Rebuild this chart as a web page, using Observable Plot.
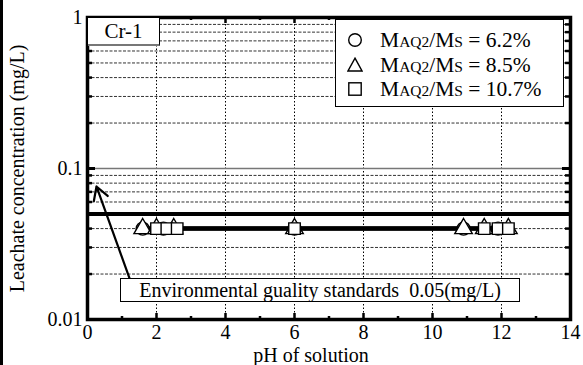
<!DOCTYPE html>
<html>
<head>
<meta charset="utf-8">
<script src="https://cdn.jsdelivr.net/npm/d3@7"></script>
<script src="https://cdn.jsdelivr.net/npm/@observablehq/plot@0.6"></script>
<style>
  html, body { margin: 0; padding: 0; background: white; overflow: hidden; width: 583px; height: 365px; }
  #wrap { position: relative; width: 583px; height: 365px; overflow: hidden; background: white;
          font-family: "Liberation Serif", "Times New Roman", serif; color: black; }
  #wrap svg { display: block; }
  #edge { position: absolute; left: 0; top: 0; width: 3px; height: 365px; background: black; }
  .box { position: absolute; background: white; box-sizing: border-box; }
  #crbox { left: 88px; top: 18px; width: 72px; height: 28px; border-right: 1.5px solid #000; border-bottom: 2px solid #777;
           font-size: 21px; line-height: 26px; text-align: center; }
  #legend { left: 335px; top: 19px; width: 229px; height: 88px; border: 1.5px solid #000; font-size: 21.5px; }
  .row { position: absolute; left: 8px; height: 24px; line-height: 24px; white-space: nowrap; }
  .row svg { position: absolute; left: 3px; top: 4px; }
  .row span.t { position: absolute; left: 36px; top: 0; }
  .sc { font-size: 15.5px; }
  #stdbox { left: 120px; top: 278px; width: 400px; height: 24px; border: 1.2px solid #000; font-size: 20px;
            line-height: 22px; text-align: center; white-space: pre; }
</style>
</head>
<body>
<div id="wrap"></div>
<script>
// ---- data ----
const seriesNames = ["MAQ2/Ms = 6.2%", "MAQ2/Ms = 8.5%", "MAQ2/Ms = 10.7%"];
const seriesRatios = ["6.2%", "8.5%", "10.7%"];
const seriesSymbols = ["circle", "triangle", "square"];
const pH_62 = [1.6, 2.2, 6.0, 10.9, 11.9];
const conc_62 = [0.04, 0.04, 0.04, 0.04, 0.04];
const pH_85 = [1.6, 2.0, 2.5, 6.0, 10.9, 11.5, 12.2];
const conc_85 = [0.04, 0.04, 0.04, 0.04, 0.04, 0.04, 0.04];
const pH_107 = [2.0, 2.3, 2.6, 6.0, 11.5, 11.9, 12.2];
const conc_107 = [0.04, 0.04, 0.04, 0.04, 0.04, 0.04, 0.04];
const standardValue = 0.05;
const standardLabel = "Environmental guality standards  0.05(mg/L)";
const panelLabel = "Cr-1";
const xMajorTicks = [0, 2, 4, 6, 8, 10, 12, 14];
const xMinorTicks = [1, 3, 5, 7, 9, 11, 13];
const xGrid = [2, 4, 6, 8, 10, 12];
const yLabelTicks = [0.01, 0.1, 1];
const yMajorTicks = [0.1];
const yMinorTicks = [0.02, 0.03, 0.04, 0.05, 0.06, 0.07, 0.08, 0.09, 0.2, 0.3, 0.4, 0.5, 0.6, 0.7, 0.8, 0.9];
const yDashedGrid = [0.02, 0.03, 0.04, 0.06, 0.07, 0.08, 0.09, 0.2, 0.3, 0.4, 0.5, 0.6, 0.7, 0.8, 0.9];
const xTitle = "pH of solution";
const yTitle = "Leachate concentration (mg/L)";
// annotation arrow (from label box towards the standard line), data units [pH, conc]
const arrowFrom = [1.25, 0.0179];
const arrowTo = [0.26, 0.076];

// ---- tables ----
const pts = [
  ...pH_62.map((x, i) => ({s: 0, x, y: conc_62[i]})),
  ...pH_85.map((x, i) => ({s: 1, x, y: conc_85[i]})),
  ...pH_107.map((x, i) => ({s: 2, x, y: conc_107[i]}))
];

const W = 583, H = 365, mL = 87, mR = 13, mT = 17, mB = 46;
const pw = W - mL - mR, ph = H - mT - mB;

const chart = Plot.plot({
  width: W, height: H,
  marginLeft: mL, marginRight: mR, marginTop: mT, marginBottom: mB,
  style: {fontFamily: "Liberation Serif, Times New Roman, serif", fontSize: "20px", color: "black", background: "white"},
  x: {domain: [0, 14]},
  y: {type: "log", domain: [0.01, 1]},
  marks: [
    Plot.ruleY(yDashedGrid, {y: d => d, stroke: "#333", strokeWidth: 1, strokeDasharray: "3,1.5"}),
    Plot.ruleX(xGrid, {x: d => d, stroke: "#000", strokeWidth: 1, strokeDasharray: "1.5,2"}),
    Plot.ruleY(yMajorTicks, {y: d => d, stroke: "#777", strokeWidth: 1.6}),
    Plot.ruleY([standardValue], {y: d => d, stroke: "#000", strokeWidth: 4}),
    Plot.line(pts, {x: "x", y: "y", z: "s", stroke: "#000", strokeWidth: 4}),
    Plot.dot(pts, {x: "x", y: "y", symbol: d => seriesSymbols[d.s], r: 6.5, fill: "white", stroke: "#000", strokeWidth: 1.4}),
    Plot.arrow([0], {x1: () => arrowFrom[0], y1: () => arrowFrom[1], x2: () => arrowTo[0], y2: () => arrowTo[1], stroke: "#000", strokeWidth: 2.2, headLength: 10}),
    // inward ticks
    Plot.ruleX(xMajorTicks, {x: d => d, insetTop: ph - 6, strokeWidth: 2.5}),
    Plot.ruleX(xMinorTicks, {x: d => d, insetTop: ph - 3, strokeWidth: 2.5}),
    Plot.ruleX(xMajorTicks, {x: d => d, insetBottom: ph - 6, strokeWidth: 2.5}),
    Plot.ruleX(xMinorTicks, {x: d => d, insetBottom: ph - 3, strokeWidth: 2.5}),
    Plot.ruleY(yMajorTicks, {y: d => d, insetRight: pw - 8, strokeWidth: 3}),
    Plot.ruleY(yMinorTicks, {y: d => d, insetRight: pw - 5, strokeWidth: 2.5}),
    Plot.ruleY(yMajorTicks, {y: d => d, insetLeft: pw - 8, strokeWidth: 3}),
    Plot.ruleY(yMinorTicks, {y: d => d, insetLeft: pw - 5, strokeWidth: 2.5}),
    Plot.frame({stroke: "#000", strokeWidth: 3.5}),
    Plot.axisX(xMajorTicks, {tickSize: 0, tickPadding: 5, label: null, fontSize: 20}),
    Plot.axisY(yLabelTicks, {tickSize: 0, tickPadding: 5, label: null, tickFormat: d => String(d), fontSize: 20}),
    Plot.text([xTitle], {frameAnchor: "bottom", dy: 36, dx: -18, lineAnchor: "middle", textAnchor: "middle", text: d => d, fontSize: 20}),
    Plot.text([yTitle], {frameAnchor: "left", dx: -70, rotate: -90, lineAnchor: "middle", textAnchor: "middle", text: d => d, fontSize: 20})
  ]
});

const wrap = document.getElementById("wrap");
wrap.appendChild(chart);

const edge = document.createElement("div"); edge.id = "edge"; wrap.appendChild(edge);

const cr = document.createElement("div");
cr.className = "box"; cr.id = "crbox"; cr.textContent = panelLabel;
wrap.appendChild(cr);

const symSvg = {
  circle: '<svg width="16" height="16"><circle cx="8" cy="8" r="6.3" fill="white" stroke="black" stroke-width="1.4"/></svg>',
  triangle: '<svg width="16" height="16"><path d="M8,1.2 L15,14 L1,14 Z" fill="white" stroke="black" stroke-width="1.4"/></svg>',
  square: '<svg width="16" height="16"><rect x="1.8" y="1.8" width="12.4" height="12.4" fill="white" stroke="black" stroke-width="1.4"/></svg>'
};
const leg = document.createElement("div");
leg.className = "box"; leg.id = "legend";
seriesNames.forEach((name, i) => {
  const row = document.createElement("div");
  row.className = "row";
  row.style.top = (8 + i * 24.5) + "px";
  row.innerHTML = symSvg[seriesSymbols[i]] +
    '<span class="t">M<span class="sc">AQ2</span>/M<span class="sc">S</span> = ' + seriesRatios[i] + '</span>';
  row.title = name;
  leg.appendChild(row);
});
wrap.appendChild(leg);

const sb = document.createElement("div");
sb.className = "box"; sb.id = "stdbox"; sb.textContent = standardLabel;
wrap.appendChild(sb);
</script>
</body>
</html>
